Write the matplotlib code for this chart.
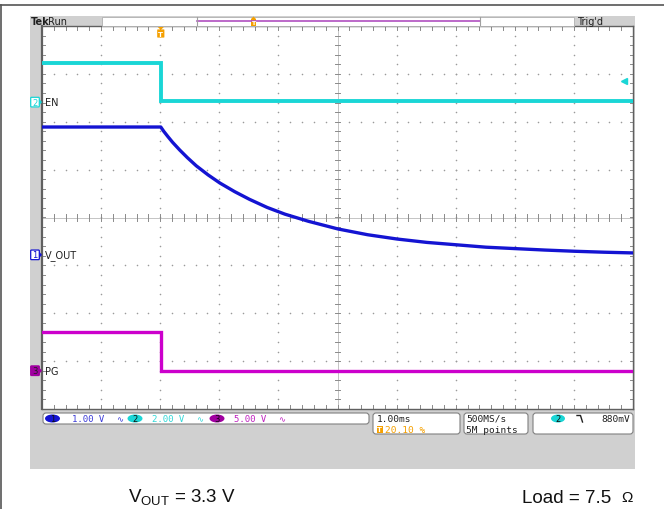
import numpy as np
import matplotlib
matplotlib.use("Agg")
import matplotlib.pyplot as plt
from matplotlib.patches import Rectangle, FancyBboxPatch, Ellipse, Polygon

plt.rcParams['mathtext.fontset'] = 'custom'
plt.rcParams['mathtext.rm'] = 'Liberation Sans'

# scope settings
ms_per_div = 1.00
trig_pct = 20.10
volts_per_div = {1: 1.00, 2: 2.00, 3: 5.00}
ch_pos = {1: -0.78, 2: 2.41, 3: -3.20}        # ground marker position (div)
ch_name = {1: "V_OUT", 2: "EN", 3: "PG"}

# EN (ch2) and PG (ch3) steps, time in ms, level in V
en_t = [-2.01, 0.0, 0.0, 7.99]
en_v = [1.65, 1.65, 0.06, 0.06]
pg_t = [-2.01, 0.0, 0.0, 7.99]
pg_v = [4.05, 4.05, 0.0, 0.0]

# V_OUT (ch1) discharge
vout_t = [-2.01, 0.0, 0.05, 0.12, 0.2, 0.32, 0.45, 0.6, 0.8, 1.0, 1.25, 1.5,
          1.8, 2.1, 2.5, 3.0, 3.5, 4.0, 4.5, 5.0, 5.5, 6.0, 6.5, 7.0, 7.5, 7.99]
vout_v = [2.67, 2.67, 2.58, 2.47, 2.35, 2.19, 2.03, 1.86, 1.67, 1.50, 1.32,
          1.16, 0.99, 0.85, 0.70, 0.54, 0.42, 0.33, 0.26, 0.21, 0.16, 0.13,
          0.10, 0.075, 0.055, 0.04]

c_blue = "#1414d2"
c_cyan = "#1ad6d6"
c_mag = "#cc00cc"
c_org = "#f5a000"
c_panel = "#d0d0d0"

W, H = 664, 510
fig = plt.figure(figsize=(W / 100, H / 100), dpi=100)

# background in pixel coords
bg = fig.add_axes([0, 0, 1, 1], zorder=0)
bg.set_xlim(0, W)
bg.set_ylim(H, 0)
bg.axis("off")
bg.plot([0, W], [5.5, 5.5], color="#555555", lw=1.2)
bg.plot([1, 1], [5.5, H], color="#555555", lw=1.2)
bg.add_patch(Rectangle((30, 17), 605, 453, color=c_panel, lw=0))

# graticule
L, R, T, B = 42, 633, 27, 410
ax = fig.add_axes([L / W, 1 - B / H, (R - L) / W, (B - T) / H], zorder=1)
ax.set_xlim(-5, 5)
ax.set_ylim(-4, 4)
ax.set_facecolor("white")
ax.set_xticks([])
ax.set_yticks([])
for s in ax.spines.values():
    s.set_color("#606060")
    s.set_linewidth(1.0)
ax.spines["left"].set_linewidth(1.6)

minor_x = np.arange(-5, 5.01, 0.2)
minor_y = np.arange(-4, 4.01, 0.2)
dot = dict(color="#9a9a9a", s=1.3, lw=0, zorder=1)
for gx in range(-4, 5):
    if gx != 0:
        ax.scatter(np.full(minor_y.size, gx), minor_y, **dot)
for gy in range(-3, 4):
    if gy != 0:
        ax.scatter(minor_x, np.full(minor_x.size, gy), **dot)
ax.axhline(0, color="#c4c4c4", lw=0.7, zorder=1)
ax.axvline(0, color="#c4c4c4", lw=0.7, zorder=1)
tk = dict(color="#8a8a8a", lw=0.7, zorder=1)
for mx in minor_x:
    ax.plot([mx, mx], [-0.07, 0.07], **tk)
    ax.plot([mx, mx], [3.92, 4], **tk)
    ax.plot([mx, mx], [-4, -3.92], **tk)
for my in minor_y:
    ax.plot([-0.04, 0.04], [my, my], **tk)
    ax.plot([-5, -4.95], [my, my], **tk)
    ax.plot([4.95, 5], [my, my], **tk)

x0 = -5 + 10 * trig_pct / 100


def to_div(t, v, ch):
    return (np.asarray(t) / ms_per_div + x0,
            np.asarray(v) / volts_per_div[ch] + ch_pos[ch])


ax.plot(*to_div(en_t, en_v, 2), color=c_cyan, lw=2.8, zorder=3,
        solid_joinstyle="miter")
ax.plot(*to_div(vout_t, vout_v, 1), color=c_blue, lw=2.4, zorder=3,
        solid_joinstyle="round")
ax.plot(*to_div(pg_t, pg_v, 3), color=c_mag, lw=2.4, zorder=3,
        solid_joinstyle="miter")
# trigger level arrow
ax.plot([4.85], [ch_pos[2] + 0.88 / volts_per_div[2]], marker="<",
        color=c_cyan, ms=4, clip_on=False, zorder=4)

# overlay in pixel coords
fg = fig.add_axes([0, 0, 1, 1], zorder=2)
fg.set_xlim(0, W)
fg.set_ylim(H, 0)
fg.axis("off")
fg.patch.set_alpha(0)

# header
fg.add_patch(Rectangle((102, 17.5), 472, 9, facecolor="white",
                       edgecolor="#b0b0b0", lw=0.6))
fg.plot([197, 480], [22, 22], color="#b050c0", lw=1.2)
fg.plot([197, 197], [18, 26], color="#a0a0a0", lw=0.8)
fg.plot([480, 480], [18, 26], color="#a0a0a0", lw=0.8)
fg.add_patch(Rectangle((251, 20), 5, 7, color=c_org, lw=0))
fg.text(253.5, 23.5, "T", color="white", fontsize=4.5, ha="center",
        va="center", fontweight="bold")
fg.add_patch(Polygon([[251, 20], [256, 20], [253.5, 17.5]], color=c_org, lw=0))
fg.text(31, 22, "Tek", fontsize=7, fontweight="bold", color="#202020",
        va="center")
fg.text(48, 22, "Run", fontsize=7, color="#202020", va="center")
fg.text(577, 22, "Trig'd", fontsize=7, color="#202020", va="center")

# trigger position marker
tx = L + (R - L) * trig_pct / 100
fg.add_patch(Polygon([[tx - 3, 28], [tx + 3, 28], [tx, 31]], color=c_org, lw=0))
fg.add_patch(FancyBboxPatch((tx - 3, 31), 6, 7, boxstyle="round,pad=0.6",
                            color=c_org, lw=0))
fg.text(tx, 35, "T", color="white", fontsize=5, ha="center", va="center",
        fontweight="bold")

# channel ground markers and names
gm = {1: ("white", c_blue, c_blue), 2: ("white", c_cyan, c_cyan),
      3: ("#a000a0", "#a000a0", "#202020")}
for ch in (1, 2, 3):
    y = T + (4 - ch_pos[ch]) * (B - T) / 8
    fc, ec, tc = gm[ch]
    fg.add_patch(FancyBboxPatch((31.5, y - 4), 7, 8, boxstyle="round,pad=0.8",
                                facecolor=fc, edgecolor=ec, lw=0.9))
    fg.add_patch(Polygon([[39.5, y - 3], [39.5, y + 3], [42, y]], color=ec, lw=0))
    fg.text(35, y, str(ch), color=tc, fontsize=6, ha="center", va="center")
    fg.text(45, y, ch_name[ch], fontsize=7, color="#202020", va="center")

# status boxes
box = dict(boxstyle="round,pad=0,rounding_size=3", facecolor="white",
           edgecolor="#808080", lw=0.8)
fg.add_patch(FancyBboxPatch((43, 414), 326, 11, **box))
fg.add_patch(FancyBboxPatch((373, 414), 87, 21, **box))
fg.add_patch(FancyBboxPatch((464, 414), 64, 21, **box))
fg.add_patch(FancyBboxPatch((533, 414), 100, 21, **box))

badge = {1: (52.5, c_blue), 2: (135, c_cyan), 3: (217, "#a000a0")}
vx = {1: 72, 2: 152, 3: 234}
vcol = {1: "#3a3ad8", 2: "#30d8d8", 3: "#c020c0"}
for ch in (1, 2, 3):
    bx, bc = badge[ch]
    fg.add_patch(Ellipse((bx, 419.5), 15, 8, color=bc, lw=0))
    fg.text(bx, 419.8, str(ch), fontsize=6, ha="center", va="center",
            color="#101010")
    fg.text(vx[ch], 419.8, f"{volts_per_div[ch]:.2f} V", fontsize=6.5,
            color=vcol[ch], va="center", family="DejaVu Sans Mono")
    fg.text(vx[ch] + 44, 419.8, "∿", fontsize=6, color=vcol[ch], va="center")

mono = dict(fontsize=6.8, family="DejaVu Sans Mono", va="center",
            color="#202020")
fg.text(377, 419.5, f"{ms_per_div:.2f}ms", **mono)
fg.add_patch(Rectangle((376.5, 426.5), 6, 7, color=c_org, lw=0))
fg.text(379.5, 430, "T", color="white", fontsize=5, ha="center", va="center",
        fontweight="bold")
fg.text(385, 430.3, f"{trig_pct:.2f} %", **{**mono, "color": c_org})
fg.text(466, 419.5, "500MS/s", **mono)
fg.text(466, 430.3, "5M points", **mono)
fg.add_patch(Ellipse((558, 419.5), 14, 8, color=c_cyan, lw=0))
fg.text(558, 419.8, "2", fontsize=6, ha="center", va="center", color="#101010")
# falling edge slope symbol
fg.plot([577, 580.5, 582.5], [416.5, 416.5, 423], color="#202020", lw=1.0)
fg.text(630, 419.5, "880mV", ha="right",
        **{k: v for k, v in mono.items() if k != "ha"})

# captions
fg.text(128, 503, r"V$_{\mathrm{OUT}}$ = 3.3 V", fontsize=13.5,
        family="Liberation Sans", va="baseline", color="#111111")
fg.text(522, 503, "Load = 7.5", fontsize=13.5, family="Liberation Sans",
        va="baseline", color="#111111")
fg.text(621, 502, "Ω", fontsize=11, family="Liberation Sans",
        va="baseline", color="#111111")

fig.savefig("out.png", dpi=100)
